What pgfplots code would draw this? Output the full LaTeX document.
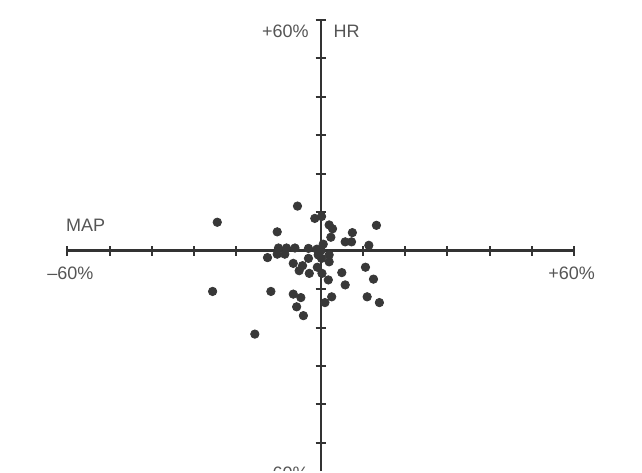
\documentclass[border=0pt]{standalone}
\usepackage{pgfplots}
\pgfplotsset{compat=1.18}
\usepackage{fontspec}
\setmainfont{Liberation Sans}
\definecolor{axisgray}{HTML}{333333}
\definecolor{dotgray}{HTML}{383838}
\definecolor{labelgray}{HTML}{555555}

% change in MAP (x) vs change in HR (y), percent
\pgfplotstableread{
x y
-5.5 11.6
-24.5 7.4
-10.3 4.9
-1.4 8.4
0.2 8.9
2.0 6.7
2.8 5.7
2.4 3.5
7.5 4.7
5.8 2.3
7.3 2.3
13.2 6.6
11.4 1.4
0.6 1.7
-10.0 0.7
-8.1 0.7
-6.1 0.7
-2.9 0.6
-0.9 0.4
0.1 0.1
-12.6 -1.8
-10.3 -0.9
-8.5 -0.9
-6.5 -3.3
-4.3 -3.9
-5.1 -5.2
-2.7 -5.9
-2.9 -2.0
-0.6 -1.1
0.2 -2.0
-0.8 -4.3
0.3 -5.9
2.0 -1.1
2.0 -2.9
1.8 -7.6
5.0 -5.7
5.8 -8.9
10.6 -4.3
12.5 -7.4
-25.6 -10.6
-11.8 -10.6
-6.5 -11.3
-4.7 -12.2
2.6 -12.0
1.0 -13.5
11.0 -12.0
13.9 -13.5
-5.7 -14.6
-4.1 -16.9
-15.6 -21.7
}\hrmap

\tikzset{lbl/.style={inner sep=0pt, outer sep=0pt, text=labelgray,
  font=\fontsize{9}{10}\selectfont}}

\begin{document}
\begin{tikzpicture}
\begin{axis}[
  x=2.111pt, y=1.922pt,
  axis lines=center,
  axis line style={-, axisgray, line width=1.2pt},
  xmin=-60, xmax=60, ymin=-57.35, ymax=60,
  xtick={-60,-50,...,60}, ytick={-50,-40,...,60},
  xticklabels={}, yticklabels={},
  tick align=center, major tick length=5pt,
  tick style={axisgray, line width=1pt},
  clip=false,
]
\addplot[only marks, mark=*, mark size=2.1pt, dotgray] table {\hrmap};
\node[lbl, anchor=north east, xshift=-6pt, yshift=-2.5pt] at (axis cs:0,60) {+60\%};
\node[lbl, anchor=north west, xshift=6.5pt, yshift=-2.5pt] at (axis cs:0,60) {HR};
\node[lbl, anchor=south west, xshift=-0.6pt, yshift=9.5pt] at (axis cs:-60,0) {MAP};
\node[lbl, anchor=north, xshift=1.5pt, yshift=-8pt] at (axis cs:-60,0) {–60\%};
\node[lbl, anchor=north, xshift=-1.2pt, yshift=-8pt] at (axis cs:60,0) {+60\%};
\end{axis}
\begin{scope}[shift={(current axis.origin)}]
\clip (-160.35pt,-110.15pt) rectangle (160.65pt,125.35pt);
\node[lbl, overlay, anchor=south east] at (-6pt,-114.3pt) {–60\%};
\end{scope}
\end{tikzpicture}
\end{document}
